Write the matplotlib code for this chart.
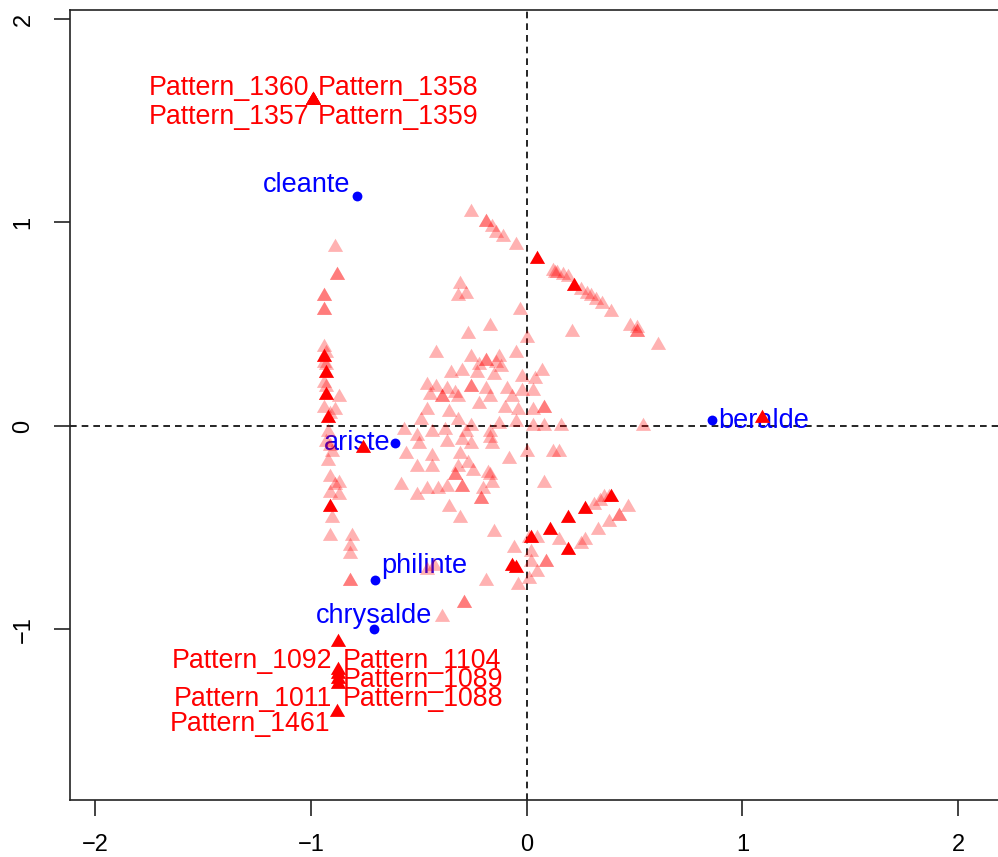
import matplotlib
matplotlib.use("Agg")
import matplotlib.pyplot as plt
from matplotlib.path import Path
import numpy as np

plt.rcParams['font.family'] = ['Liberation Sans', 'DejaVu Sans']

# ---------------- data ----------------
# individuals (characters) - blue points
ind_names = ["cleante", "ariste", "philinte", "chrysalde", "beralde"]
ind_x = [-0.787, -0.611, -0.704, -0.708, 0.861]
ind_y = [1.13, -0.084, -0.757, -1.0, 0.03]

# selected (fully opaque) pattern modalities
sel_x = [-0.99, -0.99, -0.99, -0.99,
         -0.875, -0.875, -0.875, -0.875, -0.875, -0.88,
         1.09, -0.76, 0.05, 0.22, -0.94, -0.93, -0.93, -0.92, -0.91,
         0.11, 0.19, 0.27, 0.39, 0.19, 0.02, -0.07, -0.05]
sel_y = [1.60, 1.60, 1.60, 1.60,
         -1.06, -1.20, -1.22, -1.245, -1.27, -1.405,
         0.04, -0.11, 0.82, 0.69, 0.34, 0.26, 0.15, 0.04, -0.40,
         -0.51, -0.45, -0.41, -0.35, -0.61, -0.55, -0.69, -0.70]

# unselected (transparent) pattern modalities
light_x = [
    -0.26, -0.19, -0.19, -0.16, -0.14, -0.11, -0.05,
    0.12, 0.13, 0.14, 0.17, 0.19, 0.25, 0.28, 0.30, 0.32, 0.35, 0.39, 0.48, 0.51, 0.51, 0.51, 0.61,
    -0.31, -0.28, -0.32, -0.03, -0.17, 0.21, 0.0, -0.27, -0.05, -0.42,
    -0.89, -0.88, -0.88, -0.94, -0.94, -0.94, -0.94, -0.94, -0.93, -0.94, -0.93, -0.94, -0.93, -0.87,
    -0.94, -0.89, -0.91, -0.92, -0.93, -0.91, -0.90, -0.92, -0.91, -0.87, -0.89, -0.91, -0.87, -0.90,
    -0.91, -0.81, -0.82, -0.82, -0.82, -0.82,
    -0.19, -0.19, -0.26, -0.13, -0.22, -0.14, -0.12, -0.35, -0.30, -0.23, -0.15, -0.02, 0.04, 0.07,
    -0.46, -0.42, -0.37, -0.33, -0.26, -0.26, -0.19, -0.09, -0.02, 0.03, -0.45, -0.39, -0.39, -0.32,
    -0.22, -0.17, -0.07, -0.10, -0.04, 0.03, 0.08, 0.08, -0.46, -0.36, -0.49, -0.32, -0.26, -0.13,
    -0.05, 0.03, 0.08, 0.16, 0.54, -0.57, -0.38, -0.28, -0.17, -0.51, -0.44, -0.17, -0.37, -0.30,
    -0.26, -0.50, -0.16, 0.0, 0.12, 0.15, -0.31, -0.56, -0.44, -0.27, -0.08, -0.44, -0.51, -0.32,
    -0.25, -0.33, -0.33, -0.18, -0.17, -0.58, -0.51, -0.46, -0.41, -0.37, -0.30, -0.30, -0.16, -0.20,
    -0.21, -0.21, -0.36, -0.31, 0.08, -0.15, -0.06, 0.02, 0.09, 0.09, 0.02, 0.05, 0.01, -0.19,
    -0.04, -0.29, -0.29, -0.39, -0.43, -0.46, 0.15, 0.01, 0.05,
    0.31, 0.34, 0.36, 0.38, 0.47, 0.43, 0.43, 0.38, 0.33, 0.27, 0.25]
light_y = [
    1.05, 1.0, 1.0, 0.98, 0.95, 0.93, 0.89,
    0.76, 0.75, 0.75, 0.74, 0.73, 0.67, 0.65, 0.64, 0.62, 0.60, 0.56, 0.49, 0.48, 0.46, 0.46, 0.40,
    0.70, 0.65, 0.64, 0.57, 0.49, 0.46, 0.43, 0.45, 0.36, 0.36,
    0.88, 0.74, 0.74, 0.64, 0.64, 0.57, 0.57, 0.39, 0.36, 0.31, 0.30, 0.21, 0.19, 0.14,
    0.09, 0.08, 0.06, -0.03, -0.08, -0.10, -0.13, -0.17, -0.25, -0.28, -0.29, -0.33, -0.34, -0.45,
    -0.54, -0.54, -0.59, -0.63, -0.76, -0.76,
    0.32, 0.32, 0.34, 0.34, 0.30, 0.31, 0.29, 0.26, 0.27, 0.26, 0.25, 0.24, 0.23, 0.27,
    0.20, 0.19, 0.18, 0.16, 0.19, 0.19, 0.18, 0.18, 0.17, 0.17, 0.15, 0.14, 0.14, 0.14,
    0.11, 0.14, 0.14, 0.09, 0.08, 0.08, 0.09, 0.09, 0.08, 0.07, 0.03, 0.03, 0.0, 0.01,
    0.02, 0.0, 0.0, 0.0, 0.0, -0.02, -0.02, -0.03, -0.03, -0.05, -0.03, -0.06, -0.08, -0.07,
    -0.09, -0.09, -0.09, -0.13, -0.13, -0.13, -0.14, -0.14, -0.15, -0.18, -0.16, -0.20, -0.20, -0.20,
    -0.22, -0.24, -0.24, -0.23, -0.24, -0.29, -0.34, -0.31, -0.31, -0.30, -0.30, -0.30, -0.28, -0.31,
    -0.36, -0.36, -0.40, -0.45, -0.28, -0.52, -0.60, -0.62, -0.67, -0.67, -0.67, -0.72, -0.75, -0.76,
    -0.78, -0.87, -0.87, -0.94, -0.69, -0.71, -0.56, -0.55, -0.55,
    -0.39, -0.37, -0.35, -0.35, -0.40, -0.44, -0.44, -0.47, -0.51, -0.56, -0.58]

# pattern labels
pat_labels = ["Pattern_1360", "Pattern_1358", "Pattern_1357", "Pattern_1359",
              "Pattern_1092", "Pattern_1104", "Pattern_1089", "Pattern_1011",
              "Pattern_1088", "Pattern_1461"]

# tick labels
x_ticks = [-2, -1, 0, 1, 2]
x_ticklabels = ['\u22122', '\u22121', '0', '1', '2']
y_ticks = [-1, 0, 1, 2]
y_ticklabels = ['\u22121', '0', '1', '2']

# ---------------- layout ----------------
W, H = 998, 857
fig = plt.figure(figsize=(W / 100, H / 100), dpi=100)
ax = fig.add_axes([70 / W, (H - 800) / H, 940 / W, 790 / H])
ax.set_xlim(-2.116, 2.24)
ax.set_ylim(-1.838, 2.044)

# triangle marker resembling R's pch 17
tri = Path([(-1, -0.577), (1, -0.577), (0, 1.155), (-1, -0.577)],
           [Path.MOVETO, Path.LINETO, Path.LINETO, Path.CLOSEPOLY])

ax.axhline(0, color='black', lw=1.2, ls=(0, (4, 3)), zorder=1)
ax.axvline(0, color='black', lw=1.2, ls=(0, (4, 3)), zorder=1)

# individuals
ax.scatter(ind_x, ind_y, s=50, color='#0000FF', marker='o', linewidths=0, zorder=2)
ind_lab = {
    "cleante": (-0.815, 1.184, 'right'),
    "ariste": (-0.630, -0.084, 'right'),
    "philinte": (-0.676, -0.688, 'left'),
    "chrysalde": (-0.708, -0.934, 'center'),
    "beralde": (0.889, 0.025, 'left'),
}
for name in ind_names:
    lx, ly, ha = ind_lab[name]
    ax.text(lx, ly, name, color='#0000FF', fontsize=19.5, ha=ha, va='center', zorder=2)

# patterns
ax.scatter(light_x, light_y, s=160, marker=tri, color='red', alpha=0.3, linewidths=0, zorder=3)
ax.scatter(sel_x, sel_y, s=160, marker=tri, color='red', alpha=1.0, linewidths=0, zorder=4)

pat_pos = [(-1.005, 1.661, 'right'), (-0.968, 1.661, 'left'),
           (-1.005, 1.518, 'right'), (-0.968, 1.518, 'left'),
           (-0.903, -1.155, 'right'), (-0.852, -1.155, 'left'),
           (-0.852, -1.248, 'left'), (-0.903, -1.342, 'right'),
           (-0.852, -1.342, 'left'), (-0.912, -1.464, 'right')]
for lab, (lx, ly, ha) in zip(pat_labels, pat_pos):
    ax.text(lx, ly, lab, color='red', fontsize=19.3, ha=ha, va='center', zorder=5)

# axes styling (R base graphics look)
for side in ['left', 'bottom', 'top']:
    ax.spines[side].set_color('#222222')
    ax.spines[side].set_linewidth(1.2)
ax.spines['right'].set_visible(False)
ax.set_xticks(x_ticks)
ax.set_yticks(y_ticks)
ax.set_xticklabels(x_ticklabels)
ax.set_yticklabels(y_ticklabels, rotation=90, va='center')
ax.tick_params(direction='out', length=11.5, width=1.2, color='#222222',
               labelsize=17)
ax.tick_params(axis='x', pad=13)
ax.tick_params(axis='y', pad=14)

fig.savefig("out.png", dpi=100)
